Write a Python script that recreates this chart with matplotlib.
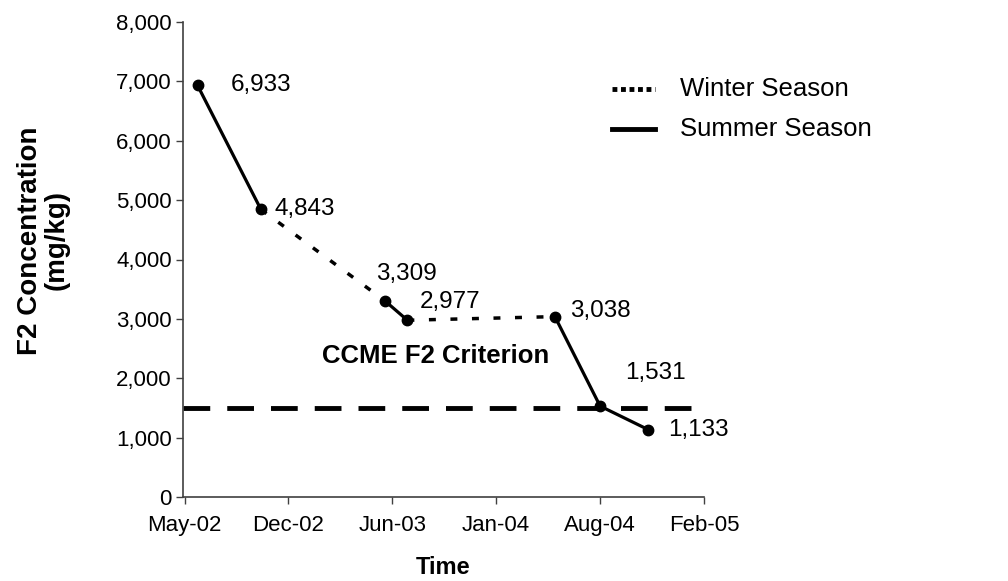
import matplotlib
matplotlib.use("Agg")
import matplotlib.pyplot as plt
import matplotlib.dates as mdates
from matplotlib.lines import Line2D
import numpy as np
import datetime as dt

plt.rcParams['font.family'] = ['Liberation Sans', 'DejaVu Sans']

# ---- data ----
sample_dates = ['2002-06-19', '2002-10-19', '2003-06-14', '2003-07-28',
                '2004-05-07', '2004-08-02', '2004-11-03']
concentration = [6933, 4843, 3309, 2977, 3038, 1531, 1133]
value_labels = ['6,933', '4,843', '3,309', '2,977', '3,038', '1,531', '1,133']
summer_segments = [[0, 1], [2, 3], [4, 5, 6]]
winter_segments = [[1, 2], [3, 4]]
criterion_value = 1500
criterion_label = 'CCME F2 Criterion'
tick_dates = ['2002-05-25', '2002-12-11', '2003-06-29', '2004-01-15',
              '2004-08-02', '2005-02-18']
tick_labels = ['May-02', 'Dec-02', 'Jun-03', 'Jan-04', 'Aug-04', 'Feb-05']
y_ticks = [0, 1000, 2000, 3000, 4000, 5000, 6000, 7000, 8000]
legend_labels = ['Winter Season', 'Summer Season']

x = mdates.date2num([dt.datetime.strptime(d, '%Y-%m-%d') for d in sample_dates])
y = np.array(concentration)
xt = mdates.date2num([dt.datetime.strptime(d, '%Y-%m-%d') for d in tick_dates])

W, H = 1008, 581
fig = plt.figure(figsize=(W / 100, H / 100), dpi=100)
ax = fig.add_axes([183 / W, 1 - 497 / H, (704 - 183) / W, (497 - 22) / H])

# criterion line
ax.axhline(criterion_value, color='black', lw=3.5, linestyle=(0, (5.5, 3.5)),
           zorder=1)
ax.text(xt[0] + (xt[1] - xt[0]) * 1.32, 2370, criterion_label,
        fontsize=18.5, fontweight='bold', ha='left', va='center')

# winter (dotted)
for seg in winter_segments:
    ax.plot(x[seg], y[seg], color='black', lw=2.5,
            linestyle=(0, (2.0, 4.2)), zorder=2)
# summer (solid)
for seg in summer_segments:
    ax.plot(x[seg], y[seg], color='black', lw=2.3, linestyle='-', zorder=3)
ax.plot(x, y, 'o', color='black', ms=7.5, zorder=4)

offsets = [(24, 0), (10, 0), (-6, 19), (9, 13), (11, 4), (18, 24), (14, 0)]
for xi, yi, lab, off in zip(x, y, value_labels, offsets):
    ax.annotate(lab, (xi, yi), xytext=off, textcoords='offset points',
                ha='left', va='center', fontsize=17.5)

ax.set_xlim(xt[0] - 3, xt[-1])
ax.set_ylim(0, 8000)
ax.set_xticks(xt)
ax.set_xticklabels(tick_labels)
ax.set_yticks(y_ticks)
ax.set_yticklabels([f'{v:,}' for v in y_ticks])
ax.tick_params(axis='both', labelsize=16, direction='out', length=5,
               width=1, color='#404040')
ax.tick_params(axis='x', pad=8)
ax.tick_params(axis='y', pad=3)
for s in ['top', 'right']:
    ax.spines[s].set_visible(False)
for s in ['left', 'bottom']:
    ax.spines[s].set_color('#404040')
    ax.spines[s].set_linewidth(1.2)

ax.set_ylabel('F2 Concentration\n(mg/kg)', fontsize=20, fontweight='bold',
              linespacing=1.05)
ax.yaxis.set_label_coords(-(183 - 70) / (704 - 183), 0.54)
ax.set_xlabel('Time', fontsize=17, fontweight='bold')
ax.xaxis.set_label_coords(0.5, -(556 - 497) / (497 - 22))

# legend (drawn manually to match sample layout)
leg_styles = [dict(lw=3.5, linestyle=(0, (1, 0.75))), dict(lw=3.5, linestyle='-')]
leg_y = [89, 129]
for lab, st, ly in zip(legend_labels, leg_styles, leg_y):
    fig.add_artist(Line2D([612 / W, 655 / W], [1 - ly / H, 1 - ly / H],
                          color='black', transform=fig.transFigure, **st))
    fig.text(680 / W, 1 - ly / H, lab, fontsize=18.5, ha='left', va='center')

fig.savefig('out.png', dpi=100)
